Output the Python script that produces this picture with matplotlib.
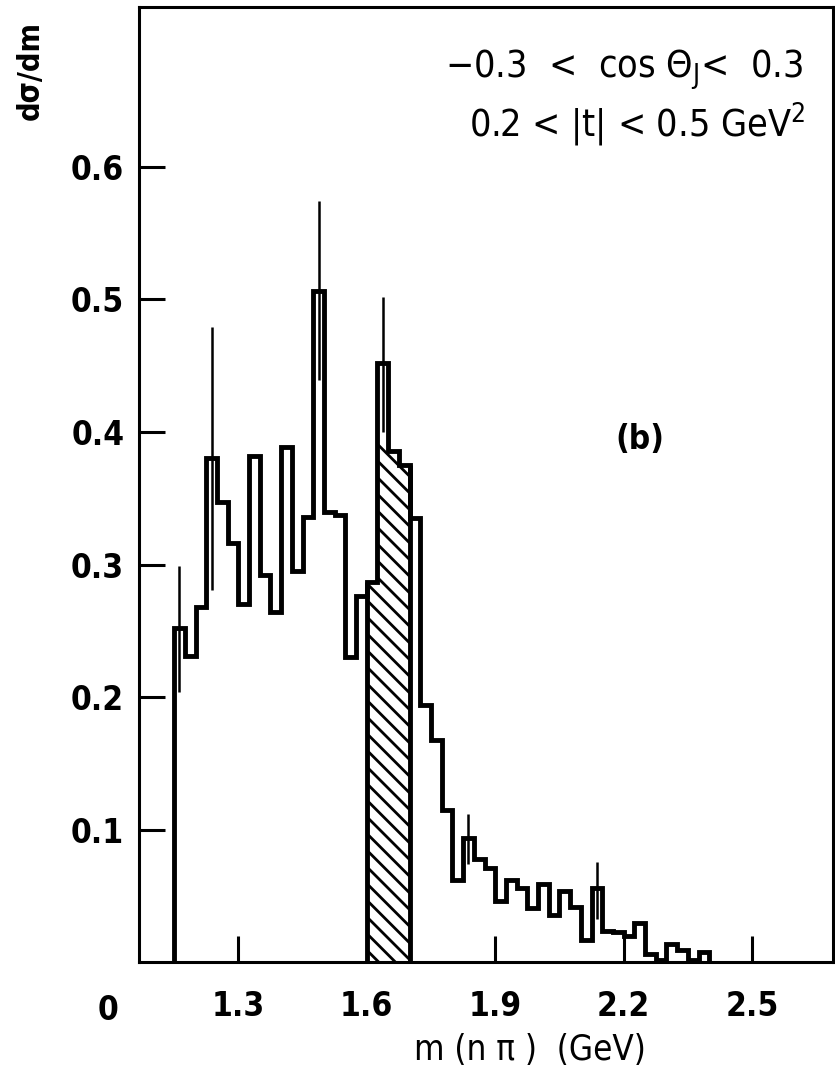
import numpy as np
import matplotlib
matplotlib.use("Agg")
import matplotlib.pyplot as plt

# fuente estrecha parecida a la del original
plt.rcParams['font.family'] = ['DejaVu Sans']
plt.rcParams['font.stretch'] = 'condensed'
plt.rcParams['font.weight'] = 'bold'
plt.rcParams['mathtext.default'] = 'regular'
plt.rcParams['hatch.linewidth'] = 2.0

# ---- datos ----
bin_start = 1.15      # GeV
bin_width = 0.025     # GeV
dsdm = [0.252, 0.231, 0.268, 0.380, 0.347, 0.316, 0.270, 0.382, 0.292, 0.264,
        0.389, 0.295, 0.336, 0.506, 0.340, 0.337, 0.230, 0.276, 0.287, 0.452,
        0.386, 0.375, 0.335, 0.194, 0.168, 0.115, 0.062, 0.094, 0.078, 0.071,
        0.046, 0.062, 0.056, 0.041, 0.059, 0.036, 0.054, 0.042, 0.017, 0.056,
        0.024, 0.023, 0.020, 0.030, 0.006, 0.002, 0.014, 0.009, 0.002, 0.008]

# zona rayada 1.6 - 1.7 GeV
hatch_edges = [1.600, 1.625, 1.650, 1.675, 1.700]
hatch_vals = [0.287, 0.395, 0.386, 0.375]

# barras de error (centro del bin, limite inferior, limite superior)
err_x = [1.1625, 1.2375, 1.4875, 1.6375, 1.8375, 2.1375]
err_lo = [0.204, 0.281, 0.439, 0.400, 0.074, 0.033]
err_hi = [0.299, 0.479, 0.574, 0.502, 0.112, 0.076]

xticks = [1.3, 1.6, 1.9, 2.2, 2.5]
xtick_labels = ['1.3', '1.6', '1.9', '2.2', '2.5']
yticks = [0.1, 0.2, 0.3, 0.4, 0.5, 0.6]
ytick_labels = ['0.1', '0.2', '0.3', '0.4', '0.5', '0.6']

edges = bin_start + bin_width * np.arange(len(dsdm) + 1)

# ---- figura ----
fig = plt.figure(figsize=(8.35, 10.78), dpi=100)
ax = fig.add_axes([0.167, 0.1073, 0.8306, 0.8862])

ax.stairs(hatch_vals, hatch_edges, baseline=0, fill=True, facecolor='white',
          edgecolor='black', hatch='\\\\', linewidth=0)
# bordes verticales de la zona rayada
ax.vlines([hatch_edges[0], hatch_edges[-1]], 0, [hatch_vals[0], hatch_vals[-1]],
          color='black', linewidth=3.5)
ax.stairs(dsdm, edges, baseline=0, color='black', linewidth=3.5)
ax.vlines(err_x, err_lo, err_hi, color='black', linewidth=1.8)

ax.set_xlim(1.069, 2.689)
ax.set_ylim(0, 0.7205)

ax.set_xticks(xticks)
ax.set_xticklabels(xtick_labels)
ax.set_yticks(yticks)
ax.set_yticklabels(ytick_labels)
ax.tick_params(direction='in', length=19, width=2.2, labelsize=24)
ax.tick_params(axis='x', pad=20)
ax.tick_params(axis='y', pad=11)

for s in ax.spines.values():
    s.set_linewidth(2.2)

# el "0" comun de la esquina
ax.text(-0.045, -0.05, '0', transform=ax.transAxes, ha='center', va='center',
        fontsize=24)

ax.text(0.44, 0.934, '\u22120.3  <  cos Θ$_{J}$<  0.3', transform=ax.transAxes,
        ha='left', va='center', fontsize=27, fontweight='normal')
ax.text(0.475, 0.877, '0.2 < |t| < 0.5 GeV$^{2}$', transform=ax.transAxes,
        ha='left', va='center', fontsize=27, fontweight='normal')
ax.text(0.721, 0.547, '(b)', transform=ax.transAxes, ha='center', va='center',
        fontsize=24)

fig.text(30 / 835, 1 - 70 / 1078, 'dσ/dm', rotation=90, ha='center',
         va='center', fontsize=22)
fig.text(0.635, 0.026, 'm (n π )  (GeV)', ha='center', va='center', fontsize=25,
         fontweight='normal')

fig.savefig('out.png', dpi=100)
